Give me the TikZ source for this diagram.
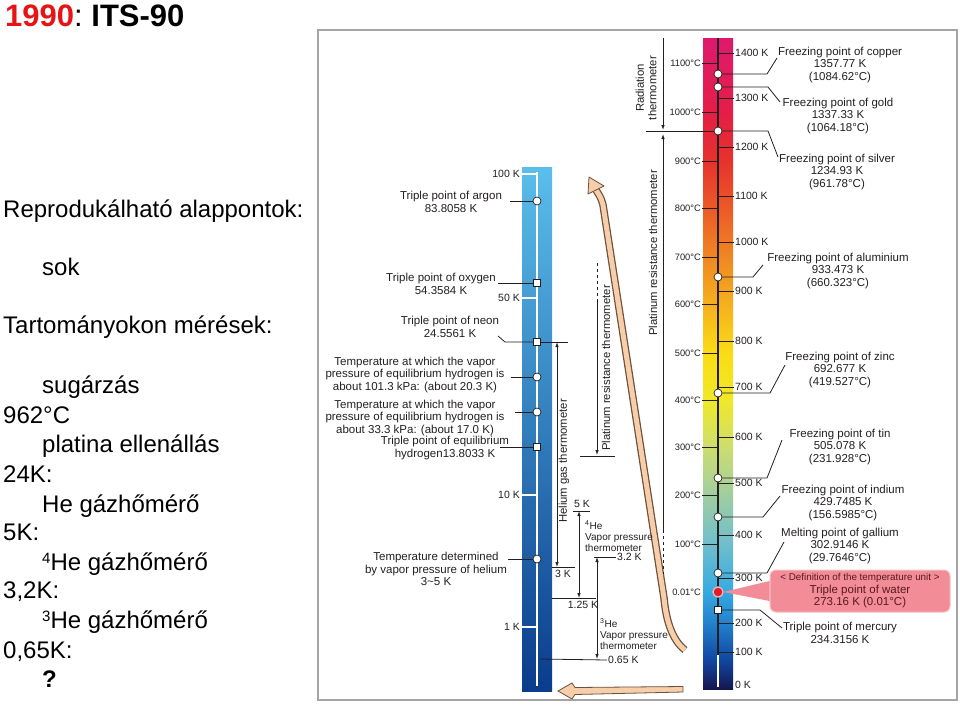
\documentclass[tikz,border=0pt]{standalone}
\usepackage{fontspec}
\setmainfont{Liberation Sans}
\usepackage{xcolor}
\usepackage{tikz}
\usetikzlibrary{positioning, arrows.meta}
\definecolor{titlered}{RGB}{230,20,20}
\definecolor{ink}{RGB}{35,31,32}
\definecolor{framegray}{RGB}{165,165,165}
\definecolor{lowtop}{RGB}{90,190,235}
\definecolor{lowmid}{RGB}{40,140,215}
\definecolor{lowbot}{RGB}{10,60,140}
\definecolor{peach}{RGB}{246,206,170}
\definecolor{peachedge}{RGB}{110,80,60}
\definecolor{waterpink}{RGB}{242,140,150}
\definecolor{waterline}{RGB}{248,190,195}
\definecolor{waterink}{RGB}{90,25,30}
\definecolor{waterred}{RGB}{225,30,35}
\definecolor{hb0}{RGB}{22,22,80}
\definecolor{hb1}{RGB}{16,70,160}
\definecolor{hb2}{RGB}{35,130,205}
\definecolor{hb3}{RGB}{55,170,225}
\definecolor{hb4}{RGB}{110,190,205}
\definecolor{hb5}{RGB}{160,205,160}
\definecolor{hb6}{RGB}{205,222,110}
\definecolor{hb7}{RGB}{240,232,40}
\definecolor{hb8}{RGB}{250,220,20}
\definecolor{hb9}{RGB}{245,175,30}
\definecolor{hb10}{RGB}{240,135,35}
\definecolor{hb11}{RGB}{235,90,40}
\definecolor{hb12}{RGB}{230,50,45}
\definecolor{hb13}{RGB}{228,30,70}
\definecolor{hb14}{RGB}{222,25,110}
\pgfdeclareverticalshading{hightemp}{100bp}{color(0bp)=(hb0); color(25bp)=(hb0);
  color(27.2bp)=(hb1); color(30.1bp)=(hb2); color(32.5bp)=(hb3); color(36.1bp)=(hb4);
  color(39.9bp)=(hb5); color(43.6bp)=(hb6); color(47.2bp)=(hb7); color(50.8bp)=(hb8);
  color(54.6bp)=(hb9); color(58.2bp)=(hb10); color(61.9bp)=(hb11); color(65.6bp)=(hb12);
  color(69.3bp)=(hb13); color(75bp)=(hb14); color(100bp)=(hb14)}

\begin{document}
\begin{tikzpicture}[x=1pt, y=-1pt,
    % Text styles
    side/.style={anchor=base west, inner sep=0, font=\fontsize{24}{28}\selectfont},
    lbl/.style={align=center, inner sep=0, text=ink, font=\fontsize{11.5}{12.4}\selectfont},
    vlbl/.style={align=left, anchor=west, inner sep=0, text=ink, font=\fontsize{10}{11}\selectfont},
    rlbl/.style={rotate=90, align=center, inner sep=0, text=ink, font=\fontsize{11.3}{12.5}\selectfont},
    klbl/.style={anchor=west, inner sep=1pt, text=ink, font=\fontsize{10.5}{10.5}\selectfont},
    clbl/.style={anchor=east, inner sep=1pt, text=ink, font=\fontsize{9.3}{9.3}\selectfont},
    blbl/.style={anchor=east, inner sep=1pt, text=ink, font=\fontsize{10.5}{10.5}\selectfont},
    % Point styles
    fixpt/.style={circle, draw=ink, fill=white, line width=0.7pt, minimum size=8pt, inner sep=0},
    fixsq/.style={rectangle, draw=ink, fill=white, line width=0.7pt, minimum size=7pt, inner sep=0},
    waterpt/.style={circle, draw=waterline, fill=waterred, line width=1pt, minimum size=10pt, inner sep=0},
    waterbox/.style={rounded corners=6pt, draw=waterline, fill=waterpink, line width=1pt, minimum width=180pt, minimum height=42pt, align=center, text=waterink, font=\fontsize{11.5}{12.4}\selectfont},
    % Edge styles
    leader/.style={draw=ink, line width=0.8pt},
    rng/.style={draw=ink, line width=0.8pt},
    ktick/.style={draw=ink, line width=1pt},
    btick/.style={draw=white, line width=1.5pt},
    >={Latex[length=5pt, width=3.5pt]}
]
\useasboundingbox (0,0) rectangle (960,704);

% Title and notes
\node[anchor=base west, inner sep=0, font=\fontsize{31}{31}\selectfont] (title) at (5,27) {\textbf{\textcolor{titlered}{1990}}:~\textbf{ITS-90}};
\node[side] (t1) at (3,217) {Reprodukálható alappontok:};
\node[side] (t2) at (42,275) {sok};
\node[side] (t3) at (3,333) {Tartományokon mérések:};
\node[side] (t4) at (42,393) {sugárzás};
\node[side] (t5) at (3,423) {962°C};
\node[side] (t6) at (42,452) {platina ellenállás};
\node[side] (t7) at (3,482) {24K:};
\node[side] (t8) at (42,512) {He gázhőmérő};
\node[side] (t9) at (3,540) {5K:};
\node[side] (t10) at (42,570) {{\fontsize{15}{15}\selectfont\raisebox{7pt}{4}}He gázhőmérő};
\node[side] (t11) at (3,598) {3,2K:};
\node[side] (t12) at (42,628) {{\fontsize{15}{15}\selectfont\raisebox{7pt}{3}}He gázhőmérő};
\node[side] (t13) at (3,658) {0,65K:};
\node[side, font=\fontsize{24}{28}\selectfont\bfseries] (t14) at (42,687) {?};

% Frame
\draw[framegray, line width=1.2pt] (318,30) rectangle (957,700);

% Low temperature bar
\shade[top color=lowtop, middle color=lowmid, bottom color=lowbot] (522,167) rectangle (552,691);
\draw[white, line width=2.5pt] (537,172) -- (537,686);

\node[blbl] (b100) at (521,174) {100 K};
\node[blbl] (b50) at (521,298) {50 K};
\node[blbl] (b10) at (521,495) {10 K};
\node[blbl] (b1) at (521,627) {1 K};
\draw[btick] (b100.east) -- +(16,0);
\draw[btick] (b50.east) -- +(16,0);
\draw[btick] (b10.east) -- +(16,0);
\draw[btick] (b1.east) -- +(16,0);

% High temperature bar
\shade[shading=hightemp] (703,38) rectangle (733,689);
\draw[ink, line width=2.2pt] (718,38) -- (718,655);
\draw[white, line width=2.2pt] (718,655) -- (718,687);

% Kelvin scale
\node[klbl] (k1400) at (734,53) {1400 K};
\node[klbl] (k1300) at (734,98) {1300 K};
\node[klbl] (k1200) at (734,147) {1200 K};
\node[klbl] (k1100) at (734,196) {1100 K};
\node[klbl] (k1000) at (734,242) {1000 K};
\node[klbl] (k900) at (734,291) {900 K};
\node[klbl] (k800) at (734,341) {800 K};
\node[klbl] (k700) at (734,387) {700 K};
\node[klbl] (k600) at (734,437) {600 K};
\node[klbl] (k500) at (734,483) {500 K};
\node[klbl] (k400) at (734,535) {400 K};
\node[klbl] (k300) at (734,578) {300 K};
\node[klbl] (k200) at (734,623) {200 K};
\node[klbl] (k100) at (734,652) {100 K};
\node[klbl] (k0) at (734,685) {0 K};
\draw[ktick] (k1400.west) -- +(-15,0);
\draw[ktick] (k1300.west) -- +(-15,0);
\draw[ktick] (k1200.west) -- +(-15,0);
\draw[ktick] (k1100.west) -- +(-15,0);
\draw[ktick] (k1000.west) -- +(-15,0);
\draw[ktick] (k900.west) -- +(-15,0);
\draw[ktick] (k800.west) -- +(-15,0);
\draw[ktick] (k700.west) -- +(-15,0);
\draw[ktick] (k600.west) -- +(-15,0);
\draw[ktick] (k500.west) -- +(-15,0);
\draw[ktick] (k400.west) -- +(-15,0);
\draw[ktick] (k300.west) -- +(-15,0);
\draw[ktick] (k200.west) -- +(-15,0);
\draw[ktick] (k100.west) -- +(-15,0);

% Celsius scale
\node[clbl] (c1100) at (702,63) {1100°C};
\node[clbl] (c1000) at (702,112) {1000°C};
\node[clbl] (c900) at (702,161) {900°C};
\node[clbl] (c800) at (702,208) {800°C};
\node[clbl] (c700) at (702,257) {700°C};
\node[clbl] (c600) at (702,304) {600°C};
\node[clbl] (c500) at (702,353) {500°C};
\node[clbl] (c400) at (702,400) {400°C};
\node[clbl] (c300) at (702,447) {300°C};
\node[clbl] (c200) at (702,495) {200°C};
\node[clbl] (c100) at (702,544) {100°C};
\node[clbl] (c001) at (702,592) {0.01°C};
\draw[ktick] (c1100.east) -- +(15,0);
\draw[ktick] (c1000.east) -- +(15,0);
\draw[ktick] (c900.east) -- +(15,0);
\draw[ktick] (c800.east) -- +(15,0);
\draw[ktick] (c700.east) -- +(15,0);
\draw[ktick] (c600.east) -- +(15,0);
\draw[ktick] (c500.east) -- +(15,0);
\draw[ktick] (c400.east) -- +(15,0);
\draw[ktick] (c300.east) -- +(15,0);
\draw[ktick] (c200.east) -- +(15,0);
\draw[ktick] (c100.east) -- +(15,0);

% Beige arrows
\draw[peachedge, line width=7.5pt] (685,650) .. controls (672,640) and (666,620) .. (664,598) -- (603,205) .. controls (601,198) .. (596,190);
\draw[peach, line width=5pt] (685,650) .. controls (672,640) and (666,620) .. (664,598) -- (603,205) .. controls (601,198) .. (596,190);
\filldraw[fill=peach, draw=peachedge, line width=0.8pt, line join=round] (589,177) -- (604,186) -- (588,194) -- cycle;
\filldraw[fill=peach, draw=peachedge, line width=0.8pt] (683,686.5) -- (575,687.5) -- (572,683) -- (558,691) -- (572,699) -- (575,694.5) -- (683,692) -- cycle;

% Fixed points - low temperature
\node[fixpt] (ar) at (537,201) {};
\node[fixsq] (ox) at (537,283) {};
\node[fixsq] (ne) at (537,342) {};
\node[fixpt] (h1) at (537,377) {};
\node[fixpt] (h2) at (537,412) {};
\node[fixsq] (h3) at (537,447) {};
\node[fixpt] (he) at (537,559) {};

\node[lbl] (arL) at (451,202) {Triple point of argon\\83.8058 K};
\node[lbl] (oxL) at (441,284) {Triple point of oxygen\\54.3584 K};
\node[lbl] (neL) at (450,327) {Triple point of neon\\24.5561 K};
\node[lbl] (h1L) at (415,375) {Temperature at which the vapor\\pressure of equilibrium hydrogen is\\about 101.3 kPa: (about 20.3 K)};
\node[lbl] (h2L) at (415,418) {Temperature at which the vapor\\pressure of equilibrium hydrogen is\\about 33.3 kPa: (about 17.0 K)};
\node[lbl] (h3L) at (445,448) {Triple point of equilibrium\\hydrogen13.8033 K};
\node[lbl] (heL) at (436,569) {Temperature determined\\by vapor pressure of helium\\3\textasciitilde 5 K};

% Fixed points - high temperature
\node[fixpt] (cu) at (718,74) {};
\node[fixpt] (au) at (718,87) {};
\node[fixpt] (ag) at (718,131) {};
\node[fixpt] (al) at (718,277) {};
\node[fixpt] (zn) at (718,393) {};
\node[fixpt] (sn) at (718,478) {};
\node[fixpt] (indium) at (718,517) {};
\node[fixpt] (ga) at (718,573) {};
\node[waterpt] (tw) at (718,592) {};
\node[fixsq] (hg) at (718,610) {};

\node[lbl] (cuL) at (840,65) {Freezing point of copper\\1357.77 K\\(1084.62°C)};
\node[lbl] (auL) at (838,116) {Freezing point of gold\\1337.33 K\\(1064.18°C)};
\node[lbl] (agL) at (837,172) {Freezing point of silver\\1234.93 K\\(961.78°C)};
\node[lbl] (alL) at (838,271) {Freezing point of aluminium\\933.473 K\\(660.323°C)};
\node[lbl] (znL) at (840,370) {Freezing point of zinc\\692.677 K\\(419.527°C)};
\node[lbl] (snL) at (840,447) {Freezing point of tin\\505.078 K\\(231.928°C)};
\node[lbl] (inL) at (843,503) {Freezing point of indium\\429.7485 K\\(156.5985°C)};
\node[lbl] (gaL) at (840,546) {Melting point of gallium\\302.9146 K\\(29.7646°C)};
\node[lbl] (hgL) at (840,633) {Triple point of mercury\\234.3156 K};
\node[waterbox] (h2o) at (860,591) {{\fontsize{9.8}{12.4}\selectfont< Definition of the temperature unit >}\\Triple point of water\\273.16 K (0.01°C)};
\fill[waterpink] (tw.east) -- ([yshift=10pt]h2o.west) -- ([yshift=-10pt]h2o.west) -- cycle;
\node[waterpt] at (tw) {};

% Range labels
\node[rlbl] (radL) at (646,88) {Radiation\\thermometer};
\node[rlbl] (ptL) at (653,253) {Platinum resistance thermometer};
\node[rlbl] (pmL) at (606,368) {Platinum resistance thermometer};
\node[rlbl] (hgtL) at (564,461) {Helium gas thermometer};
\node[vlbl] (v4L) at (585,536) {\textsuperscript{4}He\\Vapor pressure\\thermometer};
\node[vlbl] (v3L) at (600,634) {\textsuperscript{3}He\\Vapor pressure\\thermometer};
\node[klbl, anchor=center] (k3) at (563,574) {3 K};
\node[klbl, anchor=center] (k5) at (582,504) {5 K};
\node[klbl, anchor=center] (k125) at (583,605) {1.25 K};
\node[klbl] (k32) at (616,557) {3.2 K};
\node[klbl] (k065) at (607,660) {0.65 K};

% Range end points
\coordinate (radTop) at (663,38);
\coordinate (radBot) at (663,130);
\coordinate (ptTop) at (663,134);
\coordinate (ptMid) at (663,530);
\coordinate (ptEnd) at (663,574);
\coordinate (pmTop) at (597,263);
\coordinate (pmMid) at (597,300);
\coordinate (pmBot) at (597,455);
\coordinate (pmLeft) at (580,456);
\coordinate (pmRight) at (615,456);
\coordinate (heTop) at (568,342);
\coordinate (hgtA) at (557,342);
\coordinate (hgtB) at (557,567);
\coordinate (l3L) at (552,567);
\coordinate (l3R) at (575,567);
\coordinate (l5L) at (573,511);
\coordinate (l5R) at (590,511);
\coordinate (v4A) at (579,511);
\coordinate (v4B) at (579,598);
\coordinate (l125L) at (552,598);
\coordinate (l125R) at (596,598);
\coordinate (l32L) at (594,557);
\coordinate (v3A) at (597,557);
\coordinate (v3B) at (597,659);
\coordinate (l065L) at (540,659);

% Leader ends
\coordinate (arE) at (510,201);
\coordinate (oxE) at (498,283);
\coordinate (neA) at (498,336);
\coordinate (neB) at (505,342);
\coordinate (h1E) at (511,377);
\coordinate (h2E) at (515,412);
\coordinate (h3E) at (500,447);
\coordinate (heE) at (508,559);
\coordinate (cuB) at (767,74);
\coordinate (cuE) at (777,58);
\coordinate (auB) at (768,87);
\coordinate (auE) at (780,102);
\coordinate (agS) at (646,131);
\coordinate (agB) at (768,131);
\coordinate (agE) at (778,157);
\coordinate (alB) at (753,277);
\coordinate (alE) at (763,265);
\coordinate (znB) at (770,393);
\coordinate (znE) at (785,365);
\coordinate (snB) at (767,478);
\coordinate (snE) at (782,440);
\coordinate (inB) at (763,517);
\coordinate (inE) at (780,496);
\coordinate (gaB) at (767,573);
\coordinate (gaE) at (784,542);
\coordinate (hgB) at (760,610);
\coordinate (hgE) at (782,628);

% Draw all edges
\draw[rng, ->] (radTop) -- (radBot);
\draw[rng, ->] (ptMid) -- (ptTop);
\draw[rng, dashed] (ptMid) -- (ptEnd);
\draw[rng, dashed] (pmTop) -- (pmMid);
\draw[rng, ->] (pmMid) -- (pmBot);
\draw[rng] (pmLeft) -- (pmRight);

\draw[rng, <->] (hgtA) -- (hgtB);
\draw[rng] (l3L) -- (l3R);
\draw[rng] (l5L) -- (l5R);
\draw[rng, <->] (v4A) -- (v4B);
\draw[rng] (l125L) -- (l125R);
\draw[rng] (l32L) -- (k32.west);
\draw[rng, <->] (v3A) -- (v3B);
\draw[rng] (l065L) -- (k065.west);

\draw[leader] (arE) -- (ar);
\draw[leader] (oxE) -- (ox);
\draw[leader] (neA) -- (neB) -- (ne);
\draw[leader] (ne) -- (heTop);
\draw[leader] (h1E) -- (h1);
\draw[leader] (h2E) -- (h2);
\draw[leader] (h3E) -- (h3);
\draw[leader] (heE) -- (he);

\draw[leader] (cu) -- (cuB) -- (cuE);
\draw[leader] (au) -- (auB) -- (auE);
\draw[leader] (agS) -- (ag);
\draw[leader] (ag) -- (agB) -- (agE);
\draw[leader] (al) -- (alB) -- (alE);
\draw[leader] (zn) -- (znB) -- (znE);
\draw[leader] (sn) -- (snB) -- (snE);
\draw[leader] (indium) -- (inB) -- (inE);
\draw[leader] (ga) -- (gaB) -- (gaE);
\draw[leader] (hg) -- (hgB) -- (hgE);

\end{tikzpicture}
\end{document}
